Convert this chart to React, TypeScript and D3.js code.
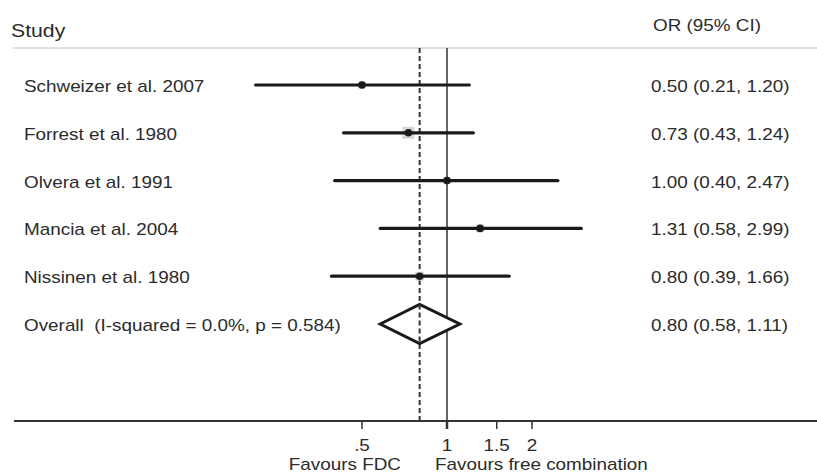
import React from 'react';
import * as d3 from 'd3';

const studies = [
  'Schweizer et al. 2007',
  'Forrest et al. 1980',
  'Olvera et al. 1991',
  'Mancia et al. 2004',
  'Nissinen et al. 1980',
];
const oddsRatio = [0.5, 0.73, 1.0, 1.31, 0.8];
const ciLow = [0.21, 0.43, 0.4, 0.58, 0.39];
const ciHigh = [1.2, 1.24, 2.47, 2.99, 1.66];
// estimated study weights (%)
const weights = [13.9, 37.6, 12.7, 15.7, 20.1];

const overallLabel = 'Overall  (I-squared = 0.0%, p = 0.584)';
const overall = { or: 0.8, lo: 0.58, hi: 1.11 };

const xTicks = [0.5, 1, 1.5, 2];
const tickLabels = ['.5', '1', '1.5', '2'];

const width = 817;
const height = 473;
const font = '"Liberation Sans", Arial, Helvetica, sans-serif';
const textColor = '#2b2b2b';
const stretch = 1.18;

const fmt = d3.format('.2f');

// text is drawn a bit wide in the original, so scale it horizontally
const Label = ({ x, y, size = 16, anchor = 'start', children }: any) => (
  <text
    transform={`translate(${x},${y}) scale(${stretch},1)`}
    fontSize={size}
    fontFamily={font}
    fill={textColor}
    textAnchor={anchor}
    style={{ whiteSpace: 'pre' }}
  >
    {children}
  </text>
);

export default function App() {
  const x = d3.scaleLog().domain([0.5, 2]).range([362, 532]);
  const rows = [...studies, 'Overall'];
  const y = d3.scalePoint().domain(rows).range([85, 324]);
  const box = d3.scaleSqrt().domain([0, d3.max(weights) as number]).range([0, 12]);

  const axisY = 421;
  const topY = 48;
  const oy = y('Overall') as number;
  const diamond = [
    [x(overall.lo), oy],
    [x(overall.or), oy - 19.5],
    [x(overall.hi), oy],
    [x(overall.or), oy + 19.5],
  ];

  return (
    <svg
      width={width}
      height={height}
      style={{ position: 'absolute', left: 0, top: 0, background: '#fff' }}
    >
      {/* header */}
      <Label x={11} y={37} size={18}>Study</Label>
      <Label x={653} y={31}>OR (95% CI)</Label>
      <line x1={13} x2={width} y1={topY} y2={topY} stroke="#d4d4d4" strokeWidth={1.5} />

      {/* reference lines */}
      <line x1={x(1)} x2={x(1)} y1={topY} y2={axisY} stroke="#333" strokeWidth={1.5} />
      <line
        x1={x(overall.or)}
        x2={x(overall.or)}
        y1={topY}
        y2={axisY}
        stroke="#333"
        strokeWidth={2}
        strokeDasharray="5,3"
      />

      {/* studies */}
      {studies.map((s, i) => {
        const cy = y(s) as number;
        const b = box(weights[i]);
        return (
          <g key={s}>
            <Label x={24} y={cy + 7}>{s}</Label>
            <rect
              x={x(oddsRatio[i]) - b / 2}
              y={cy - b / 2}
              width={b}
              height={b}
              fill="#d6d6d6"
            />
            <line
              x1={x(ciLow[i])}
              x2={x(ciHigh[i])}
              y1={cy}
              y2={cy}
              stroke="#1a1a1a"
              strokeWidth={3.2}
              strokeLinecap="round"
            />
            <circle cx={x(oddsRatio[i])} cy={cy} r={3.8} fill="#1a1a1a" />
            <Label x={651} y={cy + 7}>
              {`${fmt(oddsRatio[i])} (${fmt(ciLow[i])}, ${fmt(ciHigh[i])})`}
            </Label>
          </g>
        );
      })}

      {/* overall */}
      <Label x={24} y={oy + 7}>{overallLabel}</Label>
      <polygon
        points={diamond.map((p) => p.join(',')).join(' ')}
        fill="#fff"
        stroke="#1a1a1a"
        strokeWidth={3}
        strokeLinejoin="miter"
      />
      <line
        x1={x(overall.or)}
        x2={x(overall.or)}
        y1={oy - 19.5}
        y2={oy + 19.5}
        stroke="#333"
        strokeWidth={2}
        strokeDasharray="5,3"
      />
      <Label x={651} y={oy + 7}>
        {`${fmt(overall.or)} (${fmt(overall.lo)}, ${fmt(overall.hi)})`}
      </Label>

      {/* axis */}
      <line x1={14} x2={width} y1={axisY} y2={axisY} stroke="#333" strokeWidth={2} />
      {xTicks.map((t, i) => (
        <g key={t}>
          <line
            x1={x(t)}
            x2={x(t)}
            y1={axisY}
            y2={axisY + 8}
            stroke="#333"
            strokeWidth={t === 1 ? 2.5 : 1.5}
          />
          <Label x={x(t)} y={451} anchor="middle">{tickLabels[i]}</Label>
        </g>
      ))}
      <Label x={401} y={470} anchor="end">Favours FDC</Label>
      <Label x={435} y={470}>Favours free combination</Label>
    </svg>
  );
}
